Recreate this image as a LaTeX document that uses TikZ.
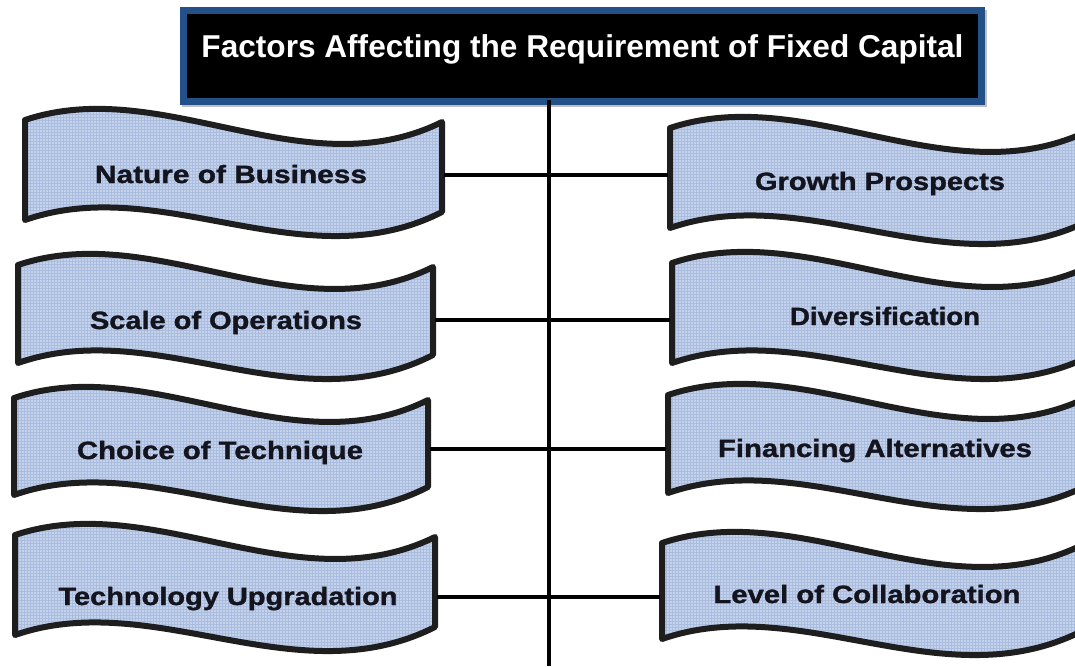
\documentclass[tikz,border=0pt]{standalone}
\usepackage{fontspec}
\setmainfont{Liberation Sans}
\newfontfamily\labelfont{Liberation Sans Bold}[FakeBold=1.2]
\usetikzlibrary{patterns}
\definecolor{bfill}{HTML}{C4D2EC}
\definecolor{bpat}{HTML}{ABBDDE}
\definecolor{bborder}{HTML}{1E1E1E}
\definecolor{tblue}{HTML}{24508A}
\definecolor{txt}{HTML}{14141E}
\tikzset{
  bannerfill/.style={fill=bfill},
  bannerpat/.style={pattern=grid, pattern color=bpat},
  bannerline/.style={draw=bborder, line width=6pt, line join=round},
  titlebox/.style={fill=black, draw=tblue, line width=7pt, text=white,
    inner xsep=0pt, inner ysep=0pt, minimum width=798pt,
    text height=47.5pt, text depth=43.5pt,
    font=\fontsize{31.6}{36}\selectfont\bfseries},
  label/.style={anchor=base, inner sep=0pt, text=txt,
    font=\fontsize{25}{30}\labelfont},
  conn/.style={draw=black, line width=4.5pt},
  spine/.style={draw=black, line width=4.5pt}
}
% #1 x0, #2 y0 (top-left), #3 width, #4 height
\newcommand{\wavepath}[4]{(#1,#2) .. controls ({#1+0.33*#3},{#2-46}) and ({#1+0.67*#3},{#2+70}) .. ({#1+#3},{#2+2})
    -- ({#1+#3},{#2+#4-8}) .. controls ({#1+0.67*#3},{#2+#4+62}) and ({#1+0.33*#3},{#2+#4-48}) .. (#1,{#2+#4}) -- cycle}
\newcommand{\wavebox}[4]{%
  \fill[bannerfill] \wavepath{#1}{#2}{#3}{#4};
  \fill[bannerpat] \wavepath{#1}{#2}{#3}{#4};
  \draw[bannerline] \wavepath{#1}{#2}{#3}{#4};}
\begin{document}
\begin{tikzpicture}[x=1pt,y=-1pt]
\useasboundingbox (0,0) rectangle (1075,666);
\begin{scope}
\clip (0,0) rectangle (1075,666);
% title shadow and box
\fill[black!25] (182,10) rectangle (987,107);
\node[titlebox] (title) at (582.5,56) {Factors Affecting the Requirement of Fixed Capital};
% spine
\coordinate (spinetop) at (549,100);
\coordinate (spineend) at (549,666);
\draw[spine] (spinetop) -- (spineend);
% left banners
\wavebox{25}{120}{417}{100}
\wavebox{18}{265}{415}{98}
\wavebox{14}{398}{414}{97}
\wavebox{15}{535}{420}{100}
% right banners
\wavebox{670}{128}{420}{100}
\wavebox{672}{263}{420}{100}
\wavebox{668}{395}{420}{98}
\wavebox{662}{543}{420}{96}
% labels
\node[label] (l1) at (231,183) {\resizebox{272pt}{\height}{Nature of Business}};
\node[label] (l2) at (226,329) {\resizebox{272pt}{\height}{Scale of Operations}};
\node[label] (l3) at (220,459) {\resizebox{286pt}{\height}{Choice of Technique}};
\node[label] (l4) at (228,605) {\resizebox{339pt}{\height}{Technology Upgradation}};
\node[label] (r1) at (880,190) {\resizebox{250pt}{\height}{Growth Prospects}};
\node[label] (r2) at (885,325) {\resizebox{190pt}{\height}{Diversification}};
\node[label] (r3) at (875,457) {\resizebox{314pt}{\height}{Financing Alternatives}};
\node[label] (r4) at (867,603) {\resizebox{307pt}{\height}{Level of Collaboration}};
% banner edge points
\coordinate (l1e) at (444,175);
\coordinate (l2e) at (435,320);
\coordinate (l3e) at (430,449);
\coordinate (l4e) at (437,597);
\coordinate (r1e) at (668,175);
\coordinate (r2e) at (670,320);
\coordinate (r3e) at (666,449);
\coordinate (r4e) at (660,597);
% connectors
\draw[conn] (l1e) -- (r1e);
\draw[conn] (l2e) -- (r2e);
\draw[conn] (l3e) -- (r3e);
\draw[conn] (l4e) -- (r4e);
\end{scope}
\end{tikzpicture}
\end{document}
